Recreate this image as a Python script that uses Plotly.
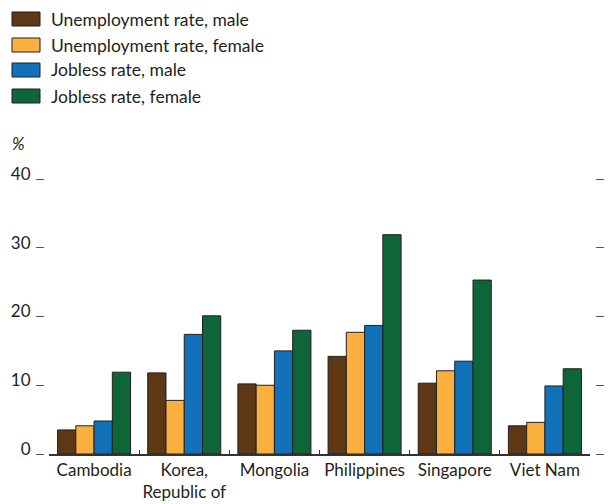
import plotly.graph_objects as go

categories = ["Cambodia", "Korea,<br>Republic of", "Mongolia", "Philippines", "Singapore", "Viet Nam"]
series_names = ["Unemployment rate, male", "Unemployment rate, female", "Jobless rate, male", "Jobless rate, female"]
unemp_male = [3.5, 11.8, 10.2, 14.2, 10.3, 4.1]
unemp_female = [4.1, 7.8, 10.0, 17.7, 12.1, 4.6]
jobless_male = [4.8, 17.4, 15.0, 18.7, 13.5, 9.9]
jobless_female = [11.9, 20.1, 18.0, 31.9, 25.3, 12.4]
colors = ["#5E3714", "#FBB040", "#1172BA", "#0E6638"]
y_ticks = [0, 10, 20, 30, 40]

FONT = "Lato"
TXT = "#231F20"

fig = go.Figure()
for name, vals, c in zip(series_names, [unemp_male, unemp_female, jobless_male, jobless_female], colors):
    fig.add_trace(go.Bar(x=categories, y=vals, name=name, showlegend=False,
                         marker=dict(color=c, line=dict(color="#231F20", width=1))))

# invisible trace to carry the right-hand axis
fig.add_trace(go.Scatter(x=[categories[0]], y=[0], yaxis="y2", showlegend=False,
                         mode="markers", marker=dict(opacity=0), hoverinfo="skip"))

ML, MR, MT, MB = 44, 13, 179, 50
W, H = 608, 504
pw = W - ML - MR
ph = H - MT - MB


def px_x(px):
    return (px - ML) / pw


def px_y(py):
    return (H - MB - py) / ph


# custom legend (swatches + labels)
shapes = []
annotations = []
legend_rows = [19, 45, 70, 96]
for name, c, yc in zip(series_names, colors, legend_rows):
    shapes.append(dict(type="rect", xref="paper", yref="paper",
                       x0=px_x(12), x1=px_x(40), y0=px_y(yc - 7), y1=px_y(yc + 7),
                       fillcolor=c, line=dict(color="#231F20", width=1)))
    annotations.append(dict(text=name, xref="paper", yref="paper", x=px_x(49), y=px_y(yc),
                            xanchor="left", yanchor="middle", showarrow=False,
                            font=dict(family=FONT, size=17.5, color=TXT)))

annotations.append(dict(text="<i>%</i>", xref="paper", yref="paper", x=px_x(10), y=px_y(143),
                        xanchor="left", yanchor="middle", showarrow=False,
                        font=dict(family=FONT, size=17, color=TXT)))

fig.update_layout(
    width=W, height=H,
    margin=dict(l=ML, r=MR, t=MT, b=MB, pad=0, autoexpand=False),
    paper_bgcolor="white", plot_bgcolor="white",
    font=dict(family=FONT, size=17, color=TXT),
    barmode="group", bargap=0.19, bargroupgap=0,
    showlegend=False,
    xaxis=dict(domain=[5 / pw, (590 - ML) / pw], showline=True, linecolor="#333333", linewidth=1.5,
               ticks="inside", tickson="boundaries", ticklen=4, tickcolor="#333333",
               showgrid=False, tickfont=dict(size=17), tickangle=0, fixedrange=True, automargin=False),
    yaxis=dict(range=[0, 40], tickvals=y_ticks, showgrid=False, zeroline=False,
               anchor="free", position=0, ticks="outside", ticklen=8, tickcolor="#555555",
               tickwidth=1, tickfont=dict(size=17), ticklabelshift=-5, ticklabelstandoff=2,
               automargin=False, fixedrange=True),
    yaxis2=dict(range=[0, 40], tickvals=y_ticks, overlaying="y", side="right", anchor="free",
                position=1, showgrid=False, zeroline=False, showticklabels=False,
                ticks="outside", ticklen=8, tickcolor="#555555", tickwidth=1, automargin=False,
                fixedrange=True),
    shapes=shapes,
    annotations=annotations,
)

fig.write_html("out.html", config={"displayModeBar": False},
               post_script="document.body.style.margin='0';")
